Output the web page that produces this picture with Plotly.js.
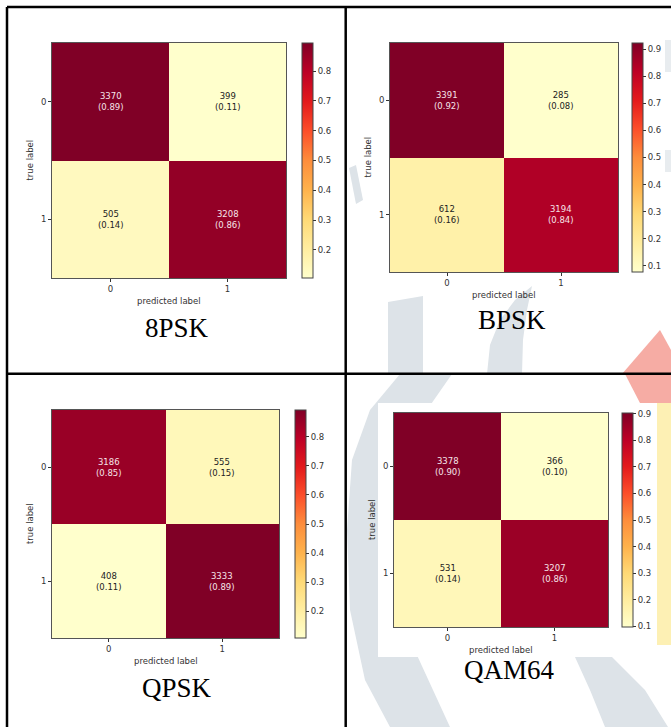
<!DOCTYPE html>
<html>
<head>
<meta charset="utf-8">
<script src="https://cdn.plot.ly/plotly-3.0.1.min.js"></script>
<style>html,body{margin:0;padding:0;background:#fff;}#chart{width:671px;height:727px;}</style>
</head>
<body>
<div id="chart"></div>
<script>
// ---- data ----
const labels = [0, 1];
const titles = ["8PSK", "BPSK", "QPSK", "QAM64"];
const counts8PSK  = [[3370, 399], [505, 3208]];
const countsBPSK  = [[3391, 285], [612, 3194]];
const countsQPSK  = [[3186, 555], [408, 3333]];
const countsQAM64 = [[3378, 366], [531, 3207]];
const allCounts = [counts8PSK, countsBPSK, countsQPSK, countsQAM64];

// ---- styling / layout ----
const W = 671, H = 727;
const px = v => v / W;
const py = v => 1 - v / H;
const boxes = [
  {x0: 52, x1: 286, y0: 43, y1: 278, cb: 302, title: [177, 328]},
  {x0: 390, x1: 618, y0: 43, y1: 272, cb: 632, title: [512, 320]},
  {x0: 52, x1: 279, y0: 410, y1: 638, cb: 295, title: [177, 688]},
  {x0: 394, x1: 608, y0: 413, y1: 627, cb: 622, title: [510, 670]}
];
const ylorrd = [
  [0.0, '#ffffcc'], [0.125, '#ffeda0'], [0.25, '#fed976'], [0.375, '#feb24c'],
  [0.5, '#fd8d3c'], [0.625, '#fc4e2a'], [0.75, '#e31a1c'], [0.875, '#bd0026'], [1.0, '#800026']
];
const tickFont = {family: 'DejaVu Sans', size: 8.5, color: '#333'};

const traces = [], annotations = [], layout = {
  width: W, height: H, margin: {l: 0, r: 0, t: 0, b: 0},
  paper_bgcolor: '#fff', plot_bgcolor: '#fff', showlegend: false,
  font: {family: 'DejaVu Sans'}
};

allCounts.forEach((c, k) => {
  const b = boxes[k];
  const z = c.map(row => { const s = row.reduce((a, v) => a + v, 0); return row.map(v => v / s); });
  const flat = z.flat();
  const zmin = Math.min(...flat), zmax = Math.max(...flat);
  const xa = 'x' + (k ? k + 1 : ''), ya = 'y' + (k ? k + 1 : '');
  const xk = 'xaxis' + (k ? k + 1 : ''), yk = 'yaxis' + (k ? k + 1 : '');
  traces.push({
    type: 'heatmap', x: labels, y: labels, z: z, xaxis: xa, yaxis: ya,
    colorscale: ylorrd, zmin: zmin, zmax: zmax, hoverinfo: 'skip',
    colorbar: {
      x: px(b.cb), xanchor: 'left', xpad: 0, ypad: 0,
      y: py((b.y0 + b.y1) / 2), yanchor: 'middle',
      lenmode: 'pixels', len: b.y1 - b.y0, thicknessmode: 'pixels', thickness: 11,
      outlinewidth: 1, outlinecolor: '#444', ticks: 'outside', ticklen: 3, tickwidth: 1,
      tickcolor: '#333', dtick: 0.1, tick0: 0, tickformat: '.1f', tickfont: tickFont
    }
  });
  layout[xk] = {
    domain: [px(b.x0), px(b.x1)], anchor: ya, range: [-0.5, 1.5], tickvals: labels,
    ticks: 'outside', ticklen: 3, tickcolor: '#333', tickfont: tickFont,
    showline: true, mirror: true, linecolor: '#555', linewidth: 1, showgrid: false, zeroline: false, fixedrange: true
  };
  layout[yk] = {
    domain: [py(b.y1), py(b.y0)], anchor: xa, range: [1.5, -0.5], tickvals: labels,
    ticks: 'outside', ticklen: 3, tickcolor: '#333', tickfont: tickFont,
    showline: true, mirror: true, linecolor: '#555', linewidth: 1, showgrid: false, zeroline: false, fixedrange: true
  };
  const thr = (zmin + zmax) / 2;
  c.forEach((row, i) => row.forEach((v, j) => {
    annotations.push({
      xref: xa, yref: ya, x: labels[j], y: labels[i], showarrow: false,
      xanchor: 'center', yanchor: 'middle',
      text: v + '<br>(' + z[i][j].toFixed(2) + ')',
      font: {family: 'DejaVu Sans', size: 8.5, color: z[i][j] > thr ? '#f6e4e8' : '#222'}
    });
  }));
  annotations.push({xref: 'paper', yref: 'paper', x: px((b.x0 + b.x1) / 2), y: py(b.y1 + 23),
    xanchor: 'center', yanchor: 'middle',
    showarrow: false, text: 'predicted label', font: {family: 'DejaVu Sans', size: 8.5, color: '#333'}});
  annotations.push({xref: 'paper', yref: 'paper', x: px(b.x0 - 22), y: py((b.y0 + b.y1) / 2),
    xanchor: 'center', yanchor: 'middle',
    showarrow: false, textangle: -90, text: 'true label', font: {family: 'DejaVu Sans', size: 8.5, color: '#333'}});
  annotations.push({xref: 'paper', yref: 'paper', x: px(b.title[0]), y: py(b.title[1]),
    xanchor: 'center', yanchor: 'middle',
    showarrow: false, text: titles[k], font: {family: 'Liberation Serif', size: 27, color: '#000'}});
});

// background watermark (decorative) + table rules
const poly = (pts, color) => ({type: 'path', xref: 'paper', yref: 'paper', layer: 'below',
  path: 'M' + pts.map(p => px(p[0]).toFixed(5) + ',' + py(p[1]).toFixed(5)).join('L') + 'Z',
  fillcolor: color, line: {width: 0}});
const grey = '#dde3e8', salmon = '#f6aca4', yellow = '#fdf0b4';
const line = (x0, y0, x1, y1) => ({type: 'line', xref: 'paper', yref: 'paper',
  x0: px(x0), y0: py(y0), x1: px(x1), y1: py(y1), line: {color: '#000', width: 2.5}, layer: 'above'});
layout.shapes = [
  poly([[349,168],[356,165],[363,200],[356,204]], grey),
  poly([[388,302],[423,296],[423,374],[388,374]], grey),
  poly([[532,286],[515,300],[500,320],[490,345],[487,374],[522,374],[523,340],[527,310]], grey),
  poly([[622,374],[660,330],[671,350],[671,374]], salmon),
  poly([[665,40],[671,40],[671,72],[665,72]], '#e8ecef'),
  poly([[665,150],[671,150],[671,172],[665,172]], '#e8ecef'),
  poly([[400,374],[452,374],[420,420],[400,470],[395,560],[410,640],[450,727],[390,727],[365,680],[350,610],[347,530],[352,460],[370,410]], grey),
  poly([[575,657],[612,657],[645,690],[668,727],[605,727],[590,690]], grey),
  poly([[648,400],[671,395],[671,645],[655,645]], yellow),
  poly([[625,374],[671,374],[671,403],[640,403]], salmon),
  {type: 'rect', xref: 'paper', yref: 'paper', layer: 'below', x0: px(378), x1: px(657), y0: py(657), y1: py(403),
   fillcolor: '#fff', line: {width: 0}},
  line(7, 7, 7, 727), line(7, 7, 671, 7), line(345.7, 7, 345.7, 727), line(7, 373.7, 671, 373.7)
];
layout.annotations = annotations;

Plotly.newPlot('chart', traces, layout, {displayModeBar: false, staticPlot: true});
</script>
</body>
</html>
